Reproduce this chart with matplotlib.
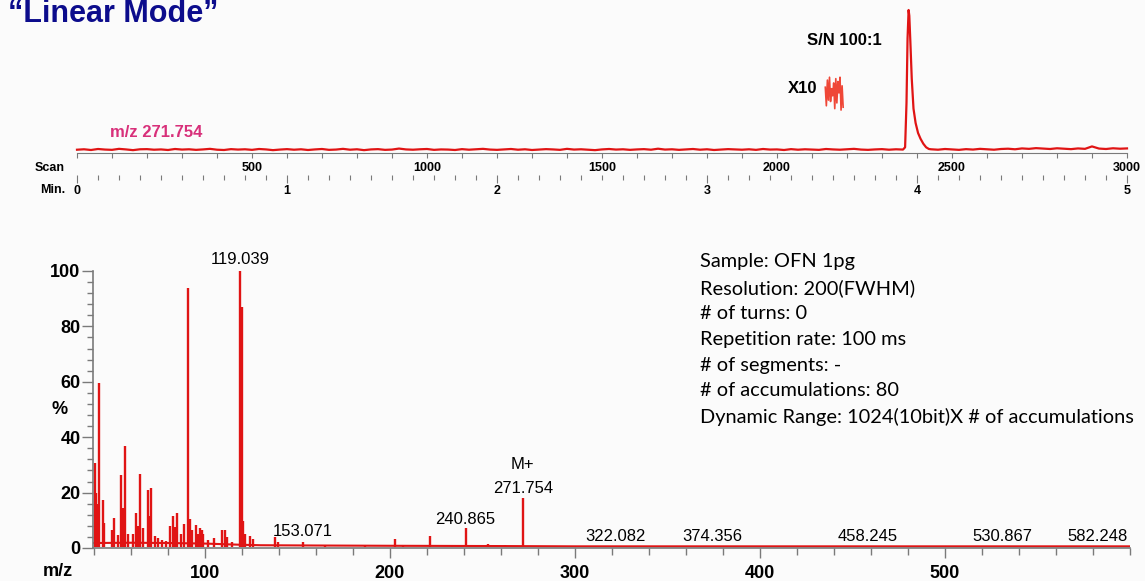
import numpy as np
import matplotlib
matplotlib.use("Agg")
import matplotlib.pyplot as plt
from matplotlib.ticker import MultipleLocator, FixedLocator

plt.rcParams['font.family'] = ['Liberation Sans', 'DejaVu Sans']

W, H = 1145, 581
RED = "#e01414"
GRAY = "#7a7a7a"

# ---- chromatogram (m/z 271.754 trace), scan vs intensity ----
base1_scan = np.arange(0, 2361, 20)
base1_val = [2.3, 2.6, 2.1, 2.8, 2.4, 2.2, 2.9, 2.5, 2.0, 2.6, 2.7, 2.3, 2.5, 2.1, 2.8, 2.4,
             2.6, 2.2, 2.5, 2.9, 2.3, 2.1, 2.7, 2.4, 2.6, 2.2, 2.8, 2.5, 2.0, 2.4, 2.7, 2.3,
             2.6, 2.1, 2.5, 2.8, 2.2, 2.4, 2.9, 2.3, 2.6, 2.0, 2.5, 2.7, 2.2, 2.4, 3.1, 2.5,
             2.3, 2.6, 2.8, 2.2, 2.5, 2.4, 2.1, 2.7, 2.3, 2.6, 2.9, 2.4, 2.2, 2.5, 2.8, 2.3,
             2.6, 2.1, 2.4, 2.7, 2.5, 2.2, 2.9, 2.4, 2.6, 2.3, 2.0, 2.5, 2.8, 2.4, 2.6, 2.2,
             2.5, 2.7, 2.3, 3.0, 2.4, 2.6, 2.2, 2.5, 2.8, 2.3, 2.6, 2.1, 2.4, 2.7, 2.5, 2.3,
             2.6, 2.2, 2.8, 2.4, 2.5, 2.1, 2.7, 2.3, 2.6, 2.4, 2.2, 2.8, 2.5, 2.3, 2.6, 2.9,
             2.4, 2.2, 2.5, 2.7, 2.3, 2.6, 2.4]
peak_scan = [2366, 2370, 2373, 2376, 2378, 2381, 2385, 2390, 2396, 2403, 2410, 2418, 2426, 2434]
peak_val = [4.0, 35.0, 80.0, 100.0, 96.0, 78.0, 52.0, 31.0, 21.0, 14.0, 10.0, 6.5, 4.0, 2.8]
base2_scan = np.arange(2440, 3001, 20)
base2_val = [2.6, 2.3, 2.8, 2.5, 2.2, 2.7, 2.4, 2.9, 2.6, 2.3, 2.8, 3.0, 2.6, 3.2, 2.9, 3.4,
             3.1, 2.8, 3.3, 3.0, 2.7, 3.2, 2.9, 4.6, 3.1, 2.8, 3.3, 3.0, 3.2]

# x10 magnified noise
x10_scan = [2138, 2141, 2144, 2147, 2150, 2153, 2156, 2159, 2162, 2165, 2168, 2171, 2174,
            2177, 2180, 2183, 2186, 2189]
x10_val = [46, 33, 51, 37, 53, 36, 45, 40, 49, 31, 52, 35, 50, 42, 53, 30, 47, 32]

# ---- mass spectrum ----
peak_mz = [40.5, 41.1, 41.8, 42.7, 44.7, 45.5, 49.9, 50.8, 52.8, 54.6, 55.7, 56.8, 58.2,
           60.9, 62.7, 63.6, 64.9, 66.7, 69.0, 69.9, 71.0, 72.8, 74.5, 76.6, 78.9, 81.1,
           82.9, 83.8, 84.9, 87.0, 88.8, 90.8, 91.9, 92.8, 95.0, 96.1, 97.1, 98.2, 99.1,
           101.8, 105.0, 109.0, 110.8, 111.7, 114.4, 119.039, 119.8, 120.7, 121.6, 124.3,
           126.1, 137.8, 139.5, 153.071, 165.0, 186.5, 202.7, 207.3, 221.6, 233.4, 240.865,
           249.0, 253.0, 262.0, 271.754, 322.082, 374.356, 458.245, 530.867, 582.248]
peak_int = [30.6, 19.8, 16.0, 59.5, 17.3, 9.0, 6.5, 10.8, 4.7, 26.4, 14.4, 36.8, 5.0,
            5.0, 12.6, 8.0, 26.6, 7.3, 20.9, 11.5, 21.5, 4.5, 3.5, 3.0, 2.5, 8.0,
            11.5, 7.6, 12.5, 5.0, 8.5, 94.0, 10.6, 6.4, 8.3, 5.0, 7.2, 6.5, 5.2,
            2.9, 3.7, 6.4, 6.6, 4.0, 2.0, 100.0, 87.0, 9.8, 5.0, 4.2,
            3.3, 4.0, 2.0, 2.2, 1.2, 1.1, 3.3, 1.2, 4.2, 1.0, 7.1,
            1.2, 1.5, 1.2, 18.0, 0.9, 0.8, 0.7, 0.8, 0.8]
base_mz = [39.5, 60, 80, 100, 118, 130, 160, 200, 260, 300, 400, 500, 600]
base_int = [1.8, 1.9, 1.8, 1.6, 1.2, 1.0, 0.9, 0.8, 0.7, 0.6, 0.6, 0.6, 0.6]

label_mz = ["119.039", "153.071", "240.865", "271.754", "322.082", "374.356",
            "458.245", "530.867", "582.248"]
label_y = [101.5, 3.3, 7.6, 18.8, 1.6, 1.6, 1.3, 1.3, 1.3]

info_lines = ["Sample: OFN 1pg", "Resolution: 200(FWHM)", "# of turns: 0",
              "Repetition rate: 100 ms", "# of segments: -", "# of accumulations: 80",
              "Dynamic Range: 1024(10bit)X # of accumulations"]


def fx(px):
    return px / W


def fy(py):
    return 1 - py / H


fig = plt.figure(figsize=(W / 100, H / 100), dpi=100, facecolor="#fbfbfb")

fig.text(fx(8), fy(22), "\u201cLinear Mode\u201d", fontsize=22, fontweight="bold",
         color="#0c0c8c", va="baseline", ha="left")

# ---- top: chromatogram ----
ax1 = fig.add_axes([fx(77), fy(153), 1050 / W, 143 / H])
ax1.set_facecolor("none")
chrom_scan = np.concatenate([base1_scan, peak_scan, base2_scan])
chrom_val = np.concatenate([base1_val, peak_val, base2_val])
ax1.plot(chrom_scan, chrom_val, color=RED, lw=1.6, clip_on=False)
ax1.plot(x10_scan, x10_val, color="#ee3322", lw=1.2, alpha=0.9)
ax1.set_xlim(0, 3000)
ax1.set_ylim(0, 100)
for s in ["left", "right", "top"]:
    ax1.spines[s].set_visible(False)
ax1.spines["bottom"].set_color(GRAY)
ax1.spines["bottom"].set_linewidth(0.8)
ax1.set_yticks([])
ax1.xaxis.set_major_locator(FixedLocator([500, 1000, 1500, 2000, 2500, 3000]))
ax1.xaxis.set_minor_locator(MultipleLocator(100))
ax1.tick_params(axis="x", which="both", length=3.5, width=0.8, color=GRAY, pad=3,
                labelsize=9)
for t in ax1.get_xticklabels():
    t.set_fontweight("bold")

sec = ax1.secondary_xaxis(-22 / 143, functions=(lambda s: s / 600, lambda m: m * 600))
sec.spines["bottom"].set_visible(False)
sec.xaxis.set_major_locator(FixedLocator([0, 1, 2, 3, 4, 5]))
sec.xaxis.set_minor_locator(MultipleLocator(0.1))
sec.tick_params(axis="x", which="major", length=6, width=0.8, color=GRAY, pad=1, labelsize=9)
sec.tick_params(axis="x", which="minor", length=3.5, width=0.8, color=GRAY)
for t in sec.get_xticklabels():
    t.set_fontweight("bold")

fig.text(fx(65), fy(168), "Scan", fontsize=9, fontweight="bold", ha="right", va="center")
fig.text(fx(65), fy(190), "Min.", fontsize=9, fontweight="bold", ha="right", va="center")

ax1.text(2300, 79, "S/N 100:1", fontsize=12, fontweight="bold", ha="right", va="center")
ax1.text(2115, 45, "X10", fontsize=12, fontweight="bold", ha="right", va="center")
ax1.text(95, 14, "m/z 271.754", fontsize=12, fontweight="bold", color="#d8307a",
         ha="left", va="center")

# ---- bottom: mass spectrum ----
ax2 = fig.add_axes([fx(93), fy(548), 1037 / W, 277 / H])
ax2.set_facecolor("none")
ax2.plot(base_mz, base_int, color=RED, lw=1.5)
ax2.vlines(peak_mz, 0.5, peak_int, color=RED, lw=1.7)
ax2.set_xlim(39.5, 600)
ax2.set_ylim(0, 100)
for s in ["right", "top"]:
    ax2.spines[s].set_visible(False)
for s in ["left", "bottom"]:
    ax2.spines[s].set_color(GRAY)
    ax2.spines[s].set_linewidth(1.2)
ax2.xaxis.set_major_locator(FixedLocator([100, 200, 300, 400, 500]))
ax2.xaxis.set_minor_locator(MultipleLocator(20))
ax2.yaxis.set_major_locator(MultipleLocator(20))
ax2.yaxis.set_minor_locator(MultipleLocator(4))
ax2.tick_params(axis="x", which="major", length=7, width=1, color=GRAY, pad=5, labelsize=13)
ax2.tick_params(axis="x", which="minor", length=5, width=1, color=GRAY)
ax2.tick_params(axis="y", which="major", length=8, width=1, color=GRAY, pad=1, labelsize=13)
ax2.tick_params(axis="y", which="minor", length=4, width=1, color=GRAY)
for t in ax2.get_xticklabels() + ax2.get_yticklabels():
    t.set_fontweight("bold")

for lab, y in zip(label_mz, label_y):
    ax2.text(float(lab), y, lab, fontsize=12, ha="center", va="bottom", clip_on=False)
ax2.text(271.754, 27.5, "M+", fontsize=12, ha="center", va="bottom")

fig.text(fx(60), fy(410), "%", fontsize=13, fontweight="bold", ha="center", va="center")
fig.text(fx(58), fy(571), "m/z", fontsize=13, fontweight="bold", ha="center", va="center")

for i, line in enumerate(info_lines):
    fig.text(fx(700), fy(262 + i * 25.8), line, fontsize=14.4, family="Lato",
             ha="left", va="center")

fig.savefig("out.png", dpi=100, facecolor=fig.get_facecolor())
